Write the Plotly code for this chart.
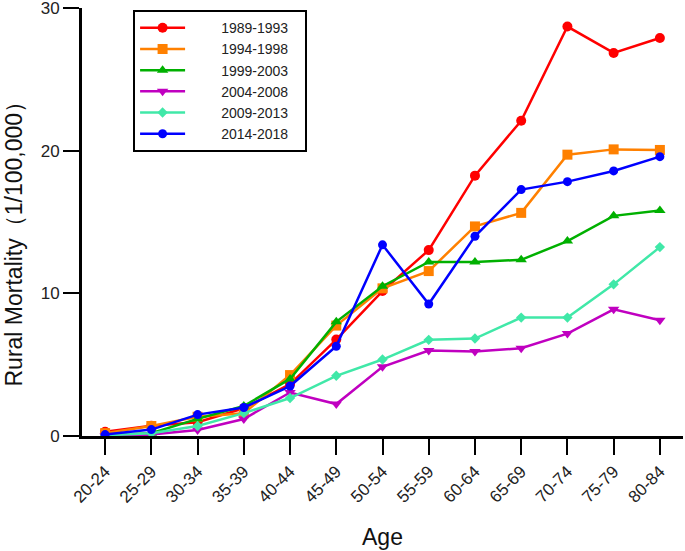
import plotly.graph_objects as go

ages = ["20-24", "25-29", "30-34", "35-39", "40-44", "45-49", "50-54",
        "55-59", "60-64", "65-69", "70-74", "75-79", "80-84"]

s1989 = [0.30, 0.72, 0.96, 1.94, 3.64, 6.76, 10.16, 13.03, 18.25, 22.1, 28.7, 26.85, 27.9]
s1994 = [0.20, 0.70, 1.35, 1.59, 4.27, 7.74, 10.35, 11.56, 14.69, 15.64, 19.72, 20.09, 20.05]
s1999 = [0.05, 0.20, 1.20, 2.10, 4.00, 8.00, 10.50, 12.20, 12.19, 12.35, 13.66, 15.43, 15.80]
s2004 = [0.00, 0.10, 0.42, 1.19, 3.05, 2.24, 4.85, 5.99, 5.92, 6.15, 7.18, 8.88, 8.11]
s2009 = [0.05, 0.20, 0.70, 1.60, 2.66, 4.22, 5.36, 6.74, 6.83, 8.30, 8.30, 10.63, 13.24]
s2014 = [0.10, 0.45, 1.50, 2.00, 3.50, 6.29, 13.40, 9.25, 14.00, 17.27, 17.83, 18.58, 19.58]

series = [
    ("1989-1993", s1989, "#FF0000", "circle", 10),
    ("1994-1998", s1994, "#FF8000", "square", 10),
    ("1999-2003", s1999, "#00B000", "triangle-up", 10),
    ("2004-2008", s2004, "#C000C0", "triangle-down", 10),
    ("2009-2013", s2009, "#40E8A8", "diamond", 8),
    ("2014-2018", s2014, "#0000FF", "circle", 9),
]

fig = go.Figure()
for name, vals, color, sym, size in series:
    fig.add_trace(go.Scatter(
        x=list(range(len(ages))), y=vals, name="        " + name + "   ",
        mode="lines+markers",
        line=dict(color=color, width=2.5),
        marker=dict(symbol=sym, size=size, color=color),
    ))

W, H = 685, 551
L, R, T, B = 82, 2, 8, 115

fig.update_layout(
    width=W, height=H,
    margin=dict(l=L, r=R, t=T, b=B, autoexpand=False),
    plot_bgcolor="white", paper_bgcolor="white",
    font=dict(family="Liberation Sans, Arial, sans-serif", color="#222222"),
    showlegend=True,
    legend=dict(
        x=0.085, y=0.995, xanchor="left", yanchor="top",
        bordercolor="black", borderwidth=2,
        font=dict(size=14, color="#222222"),
        itemwidth=45, tracegroupgap=0,
        bgcolor="white",
    ),
    xaxis=dict(
        range=[-0.5, 12.5],
        tickmode="array", tickvals=list(range(len(ages))), ticktext=ages,
        tickangle=-45,
        ticks="outside", ticklen=16, tickwidth=2, tickcolor="black",
        showline=True, linecolor="black", linewidth=3,
        showgrid=False, zeroline=False,
        tickfont=dict(size=17, color="#222222"),
        title=dict(text="Age", font=dict(size=23, color="#111111"), standoff=24),
    ),
    yaxis=dict(
        range=[0, 30],
        tickvals=[0, 10, 20, 30],
        ticks="outside", ticklen=16, tickwidth=2, tickcolor="black",
        showline=True, linecolor="black", linewidth=3,
        showgrid=False, zeroline=False,
        ticklabeloverflow="allow",
        tickfont=dict(size=17, color="#222222"),
    ),
    annotations=[dict(
        text="Rural Mortality（1/100,000）", textangle=-90,
        xref="paper", yref="paper",
        x=(14 - L) / (W - L - R), y=(H - B - 238.5) / (H - T - B),
        xanchor="center", yanchor="middle", showarrow=False,
        font=dict(size=23, color="#111111"),
    )],
)

fig.write_html("out.html", config={"displayModeBar": False},
               post_script="document.body.style.margin='0';document.body.style.padding='0';")
